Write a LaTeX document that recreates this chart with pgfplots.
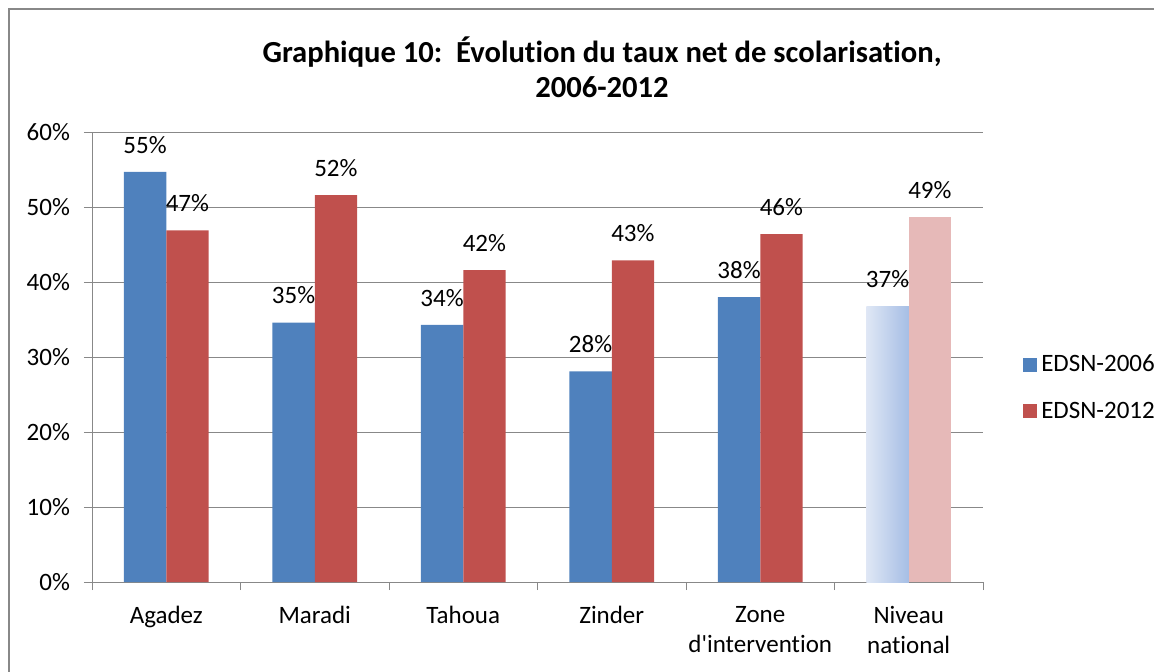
\documentclass[border=0pt]{standalone}
\usepackage{fontspec}
\setmainfont{Carlito}[Ligatures={NoCommon}]
\usepackage{pgfplots}
\pgfplotsset{compat=1.18}
\definecolor{serA}{HTML}{4F81BD}
\definecolor{serB}{HTML}{C0504D}
\definecolor{serBl}{HTML}{E6B9B8}
\definecolor{gradL}{HTML}{DFE7F5}
\definecolor{gradR}{HTML}{A6BEE5}
\definecolor{gridc}{HTML}{888888}
\pgfplotsset{/pgf/number format/assume math mode=true}

\begin{document}
\begin{tikzpicture}[x=0.5pt,y=0.5pt]
\useasboundingbox (0,0) rectangle (1154,671);
\clip (0,0) rectangle (1154,671);
\draw[gridc, line width=0.8pt] (9,-10) -- (9,662) -- (1170,662);
\node[font=\fontsize{15.3pt}{17.5pt}\selectfont\bfseries, align=center, anchor=center]
  at (602,603.5) {Graphique 10:~~Évolution du taux net de scolarisation,\\2006-2012};
\begin{axis}[
  at={(46pt,44.5pt)}, anchor=south west,
  scale only axis, width=445.5pt, height=225pt,
  font=\fontsize{12.5pt}{15pt}\selectfont,
  xmin=-0.5, xmax=5.5, ymin=0, ymax=60,
  axis lines=left, axis line style={gridc, -},
  ymajorgrids, grid style={gridc, line width=0.5pt},
  ytick={0,10,...,60},
  yticklabel={\pgfmathprintnumber{\tick}\%},
  yticklabel style={xshift=-3.5pt},
  xtick={0,...,5},
  xticklabels={Agadez, Maradi, Tahoua, Zinder, {Zone\\d\textquotesingle intervention}, {Niveau\\national}},
  xticklabel style={align=center, anchor=north, yshift=-4.5pt},
  x tick label style={font=\fontsize{12.5pt}{15pt}\selectfont},
  xtick style={draw=none},
  extra x ticks={-0.5,0.5,1.5,2.5,3.5,4.5,5.5},
  extra x tick labels={},
  extra x tick style={tick style={draw=gridc}, major tick length=4pt, xtick style={draw=gridc}},
  tick align=outside, major tick length=4pt,
  ytick style={draw=gridc},
  tick pos=left,
  ybar, bar width=0.285,
  nodes near coords={\pgfmathprintnumber[fixed,precision=0]{\pgfplotspointmeta}\%},
  nodes near coords style={anchor=south, inner sep=0pt, yshift=9pt, font=\fontsize{12.5pt}{15pt}\selectfont, text=black},
  legend style={at={(1.038,0.431)}, anchor=west, draw=none, fill=none,
    font=\fontsize{12.5pt}{15pt}\selectfont, row sep=9.5pt,
    /tikz/every even column/.append style={column sep=2pt}},
  legend cell align=left,
  legend image code/.code={\fill[#1] (0pt,-3.5pt) rectangle (7pt,3.5pt);},
  clip=false
]
\addplot[draw=none, fill=serA, bar shift=-0.1425] coordinates
 {(0,54.7) (1,34.6) (2,34.3) (3,28.1) (4,38.0)};
\addlegendentry{EDSN-2006}
\addplot[draw=none, fill=serB, bar shift=0.1425] coordinates
 {(0,46.9) (1,51.6) (2,41.6) (3,42.9) (4,46.4)};
\addlegendentry{EDSN-2012}
\addplot[draw=none, left color=gradL, right color=gradR, bar shift=-0.1425, forget plot] coordinates
 {(5,36.8)};
\addplot[draw=none, fill=serBl, bar shift=0.1425, forget plot] coordinates
 {(5,48.7)};
\end{axis}
\end{tikzpicture}
\end{document}
